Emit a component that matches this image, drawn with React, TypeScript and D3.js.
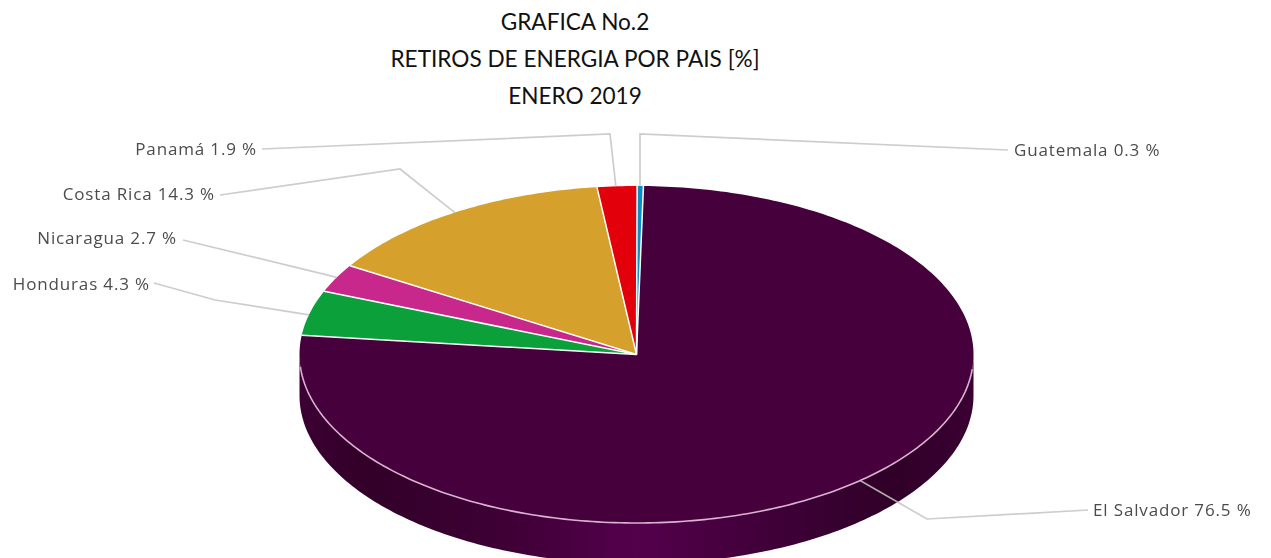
import React from "react";
import * as d3 from "d3";

const countries = ["Guatemala", "El Salvador", "Honduras", "Nicaragua", "Costa Rica", "Panamá"];
const shares = [0.3, 76.5, 4.3, 2.7, 14.3, 1.9];
const colors = ["#0e8cc4", "#46003c", "#0ba03a", "#c8288c", "#d5a02c", "#e2000b"];
const titleLines = ["GRAFICA No.2", "RETIROS DE ENERGIA POR PAIS [%]", "ENERO 2019"];

const W = 1271, H = 558;
const cx = 636.5, cy = 354.5, rx = 337, ry = 168.5, depth = 41;
const startAngle = (0.1 * Math.PI) / 180;

// Leader-line layout: elbow points and label anchors by country
const leaders: Record<string, { via: [number, number][]; label: [number, number]; anchor: string }> = {
  "Guatemala": { via: [[640, 134], [1008, 150]], label: [1014, 150], anchor: "start" },
  "El Salvador": { via: [[927, 519], [1088, 510]], label: [1093, 510], anchor: "start" },
  "Honduras": { via: [[215, 300], [154, 283]], label: [150, 284], anchor: "end" },
  "Nicaragua": { via: [[183, 240]], label: [177, 238], anchor: "end" },
  "Costa Rica": { via: [[400, 169], [220, 195]], label: [215, 194], anchor: "end" },
  "Panamá": { via: [[610, 134], [262, 149]], label: [257, 149], anchor: "end" },
};
const anchorsAt: Record<string, number> = {
  "Guatemala": 0.0104, "El Salvador": 2.416, "Honduras": 4.95, "Nicaragua": 5.188, "Costa Rica": 5.714, "Panamá": 6.222,
};

const pt = (a: number, dy = 0): [number, number] => [cx + rx * Math.sin(a), cy + dy - ry * Math.cos(a)];

function sample(a0: number, a1: number, dy = 0): [number, number][] {
  const n = Math.max(2, Math.ceil(Math.abs(a1 - a0) * 60));
  return d3.range(n + 1).map((i) => pt(a0 + ((a1 - a0) * i) / n, dy));
}

export default function App() {
  const rows = countries.map((name, i) => ({ name, value: shares[i], color: colors[i] }));
  const arcs = d3
    .pie<{ name: string; value: number; color: string }>()
    .sort(null)
    .value((d) => d.value)
    .startAngle(startAngle)
    .endAngle(startAngle + Math.PI * 2)(rows);
  const line = d3.line();
  const side = [...sample(Math.PI / 2, (3 * Math.PI) / 2), ...sample((3 * Math.PI) / 2, Math.PI / 2, depth)];
  const sideShade = d3.scaleLinear<string>()
    .domain([0, 0.1, 0.3, 0.5, 0.7, 0.88, 1])
    .range(["#3c0033", "#320029", "#3e0035", "#54004c", "#3f0038", "#300028", "#3a0032"]);

  return (
    <svg width={W} height={H} style={{ position: "absolute", left: 0, top: 0, background: "#fff" }}>
      <defs>
        <linearGradient id="side" x1="0" x2="1" y1="0" y2="0">
          {sideShade.domain().map((t) => (
            <stop key={t} offset={t} stopColor={sideShade(t)} />
          ))}
        </linearGradient>
        <filter id="soft" x="-5%" y="-5%" width="110%" height="110%">
          <feGaussianBlur stdDeviation="0.35" />
        </filter>
      </defs>
      {titleLines.map((t, i) => (
        <text key={t} x={575} y={30 + i * 37} textAnchor="middle" fontFamily="Lato, sans-serif" fontSize={22.6} fill="#111">
          {t}
        </text>
      ))}
      <path d={line(side) + "Z"} fill="url(#side)" />
      {arcs.map((a) => (
        <path
          key={a.data.name}
          d={line([[cx, cy], ...sample(a.startAngle, a.endAngle)]) + "Z"}
          fill={a.data.color}
        />
      ))}
      <path d={line(sample((95 * Math.PI) / 180, (265.8 * Math.PI) / 180)) ?? ""} fill="none" stroke="#d9b3d2" strokeWidth={1.6} />
      {arcs.map((a) => (
        <path
          key={a.data.name + "-sep"}
          d={line([[cx, cy], pt(a.startAngle)]) ?? ""}
          fill="none"
          stroke="#fff"
          strokeWidth={1.5}
        />
      ))}
      {arcs.map((a) => {
        const l = leaders[a.data.name];
        return (
          <g key={a.data.name + "-label"}>
            <path
              d={line([pt(anchorsAt[a.data.name]), ...l.via]) ?? ""}
              fill="none"
              stroke="#c4c4c4"
              strokeWidth={1.7}
              opacity={0.85}
            />
            <text
              x={l.label[0]}
              y={l.label[1]}
              dy="0.35em"
              textAnchor={l.anchor}
              fontFamily="'Open Sans', sans-serif"
              fontSize={17}
              letterSpacing={0.85}
              fill="#4c4c4c"
              filter="url(#soft)"
            >
              {`${a.data.name} ${a.data.value.toFixed(1)} %`}
            </text>
          </g>
        );
      })}
    </svg>
  );
}
